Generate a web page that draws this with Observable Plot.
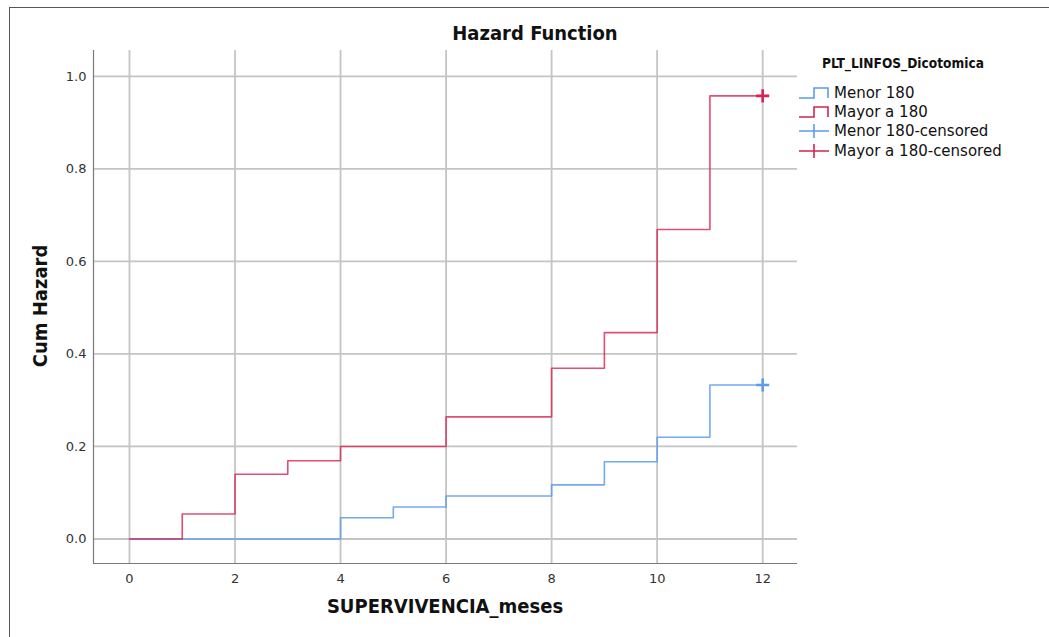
<!DOCTYPE html>
<html>
<head>
<meta charset="utf-8">
<script src="https://cdn.jsdelivr.net/npm/d3@7"></script>
<script src="https://cdn.jsdelivr.net/npm/@observablehq/plot@0.6"></script>
<style>
  html, body { margin: 0; padding: 0; background: #fff; }
  #wrap { position: relative; width: 1049px; height: 637px; overflow: hidden; background: #fff; }
  #border { position: absolute; left: 9px; top: 7px; right: -5px; bottom: -5px; border-top: 1.5px solid #555; border-left: 1.5px solid #555; }
  .t { position: absolute; color: #111; white-space: nowrap; }
  #title { left: 0; width: 1070px; top: 21px; text-align: center; font: bold 20px "DejaVu Sans Condensed", "DejaVu Sans", sans-serif; }
  #xlab { left: 93px; width: 704px; top: 594px; text-align: center; font: bold 20px "DejaVu Sans Condensed", "DejaVu Sans", sans-serif; }
  #ylab { left: 40px; top: 306px; transform: translate(-50%, -50%) rotate(-90deg); font: bold 20px "DejaVu Sans Condensed", "DejaVu Sans", sans-serif; }
  #legend { position: absolute; left: 798px; top: 55px; font-family: "DejaVu Sans", sans-serif; color: #111; }
  #legend .lt { font: bold 13.6px "DejaVu Sans Condensed", "DejaVu Sans", sans-serif; margin-left: 24px; margin-bottom: 12px; }
  #legend .row { display: flex; align-items: center; height: 19.3px; font-size: 15px; }
  #legend svg { margin-right: 4px; }
  svg text { font-family: "DejaVu Sans", sans-serif; }
</style>
</head>
<body>
<div id="wrap">
  <div id="border"></div>
  <div id="chart"></div>
  <div class="t" id="title">Hazard Function</div>
  <div class="t" id="xlab">SUPERVIVENCIA_meses</div>
  <div class="t" id="ylab">Cum Hazard</div>
  <div id="legend"></div>
</div>
<script>
// ---- data ----
const groups = ["Menor 180", "Mayor a 180"];
const groupColors = ["#5b9cec", "#d8234f"];
const menorTimes  = [0, 4, 5, 6, 8, 9, 10, 11, 12];
const menorHazard = [0, 0.046, 0.069, 0.093, 0.117, 0.167, 0.220, 0.333, 0.333];
const mayorTimes  = [0, 1, 2, 3, 4, 6, 8, 9, 10, 11, 12];
const mayorHazard = [0, 0.054, 0.140, 0.169, 0.200, 0.264, 0.369, 0.446, 0.669, 0.958, 0.958];
const censorTimes  = [12, 12];
const censorHazard = [0.333, 0.958];
const xTicks = [0, 2, 4, 6, 8, 10, 12];
const yTicks = [0, 0.2, 0.4, 0.6, 0.8, 1.0];
const xDomain = [-0.682, 12.66];
const yDomain = [-0.053, 1.056];
const legendTitle = "PLT_LINFOS_Dicotomica";
const legendLabels = ["Menor 180", "Mayor a 180", "Menor 180-censored", "Mayor a 180-censored"];

const menor = menorTimes.map((t, i) => ({t, h: menorHazard[i], g: groups[0]}));
const mayor = mayorTimes.map((t, i) => ({t, h: mayorHazard[i], g: groups[1]}));
const censored = censorTimes.map((t, i) => ({t, h: censorHazard[i], g: groups[i]}));

const plot = Plot.plot({
  width: 1049,
  height: 637,
  marginLeft: 93,
  marginRight: 252,
  marginTop: 50,
  marginBottom: 74,
  style: {fontFamily: "DejaVu Sans, sans-serif", fontSize: "13px", color: "#333", background: "transparent", overflow: "visible"},
  x: {domain: xDomain, ticks: xTicks, tickFormat: d => String(d), label: null, tickSize: 0, tickPadding: 10},
  y: {domain: yDomain, ticks: yTicks, tickFormat: d => d.toFixed(1), label: null, tickSize: 0, tickPadding: 7},
  color: {domain: groups, range: groupColors},
  marks: [
    Plot.gridX(xTicks, {stroke: "#c4c4c4", strokeOpacity: 1, strokeWidth: 1.8}),
    Plot.gridY(yTicks, {stroke: "#c4c4c4", strokeOpacity: 1, strokeWidth: 1.8}),
    Plot.ruleX([xDomain[0]], {stroke: "#7a7a7a", strokeWidth: 1.2}),
    Plot.ruleY([yDomain[0]], {stroke: "#7a7a7a", strokeWidth: 1.2}),
    Plot.line(menor, {x: "t", y: "h", stroke: "g", curve: "step-after", strokeWidth: 1.6, strokeOpacity: 0.85}),
    Plot.line(mayor, {x: "t", y: "h", stroke: "g", curve: "step-after", strokeWidth: 1.6, strokeOpacity: 0.8}),
    Plot.dot(censored, {x: "t", y: "h", stroke: "g", symbol: "plus", r: 4.3, strokeWidth: 2.6}),
    Plot.axisX({ticks: xTicks, tickSize: 0, tickPadding: 10, label: null, tickFormat: d => String(d)}),
    Plot.axisY({ticks: yTicks, tickSize: 0, tickPadding: 7, label: null, tickFormat: d => d.toFixed(1)})
  ]
});
document.getElementById("chart").appendChild(plot);

// ---- legend ----
const legend = document.getElementById("legend");
const lt = document.createElement("div");
lt.className = "lt";
lt.textContent = legendTitle;
legend.appendChild(lt);
legendLabels.forEach((lab, i) => {
  const col = groupColors[i % 2];
  const row = document.createElement("div");
  row.className = "row";
  const ns = "http://www.w3.org/2000/svg";
  const s = document.createElementNS(ns, "svg");
  s.setAttribute("width", 32);
  s.setAttribute("height", 16);
  const p = document.createElementNS(ns, "path");
  if (i < 2) {
    p.setAttribute("d", "M1,13 H16 V3 H30 V13");
  } else {
    p.setAttribute("d", "M1,8 H31 M16,1 V15");
  }
  p.setAttribute("fill", "none");
  p.setAttribute("stroke", col);
  p.setAttribute("stroke-width", 1.6);
  s.appendChild(p);
  row.appendChild(s);
  const sp = document.createElement("span");
  sp.textContent = lab;
  row.appendChild(sp);
  legend.appendChild(row);
});
</script>
</body>
</html>
